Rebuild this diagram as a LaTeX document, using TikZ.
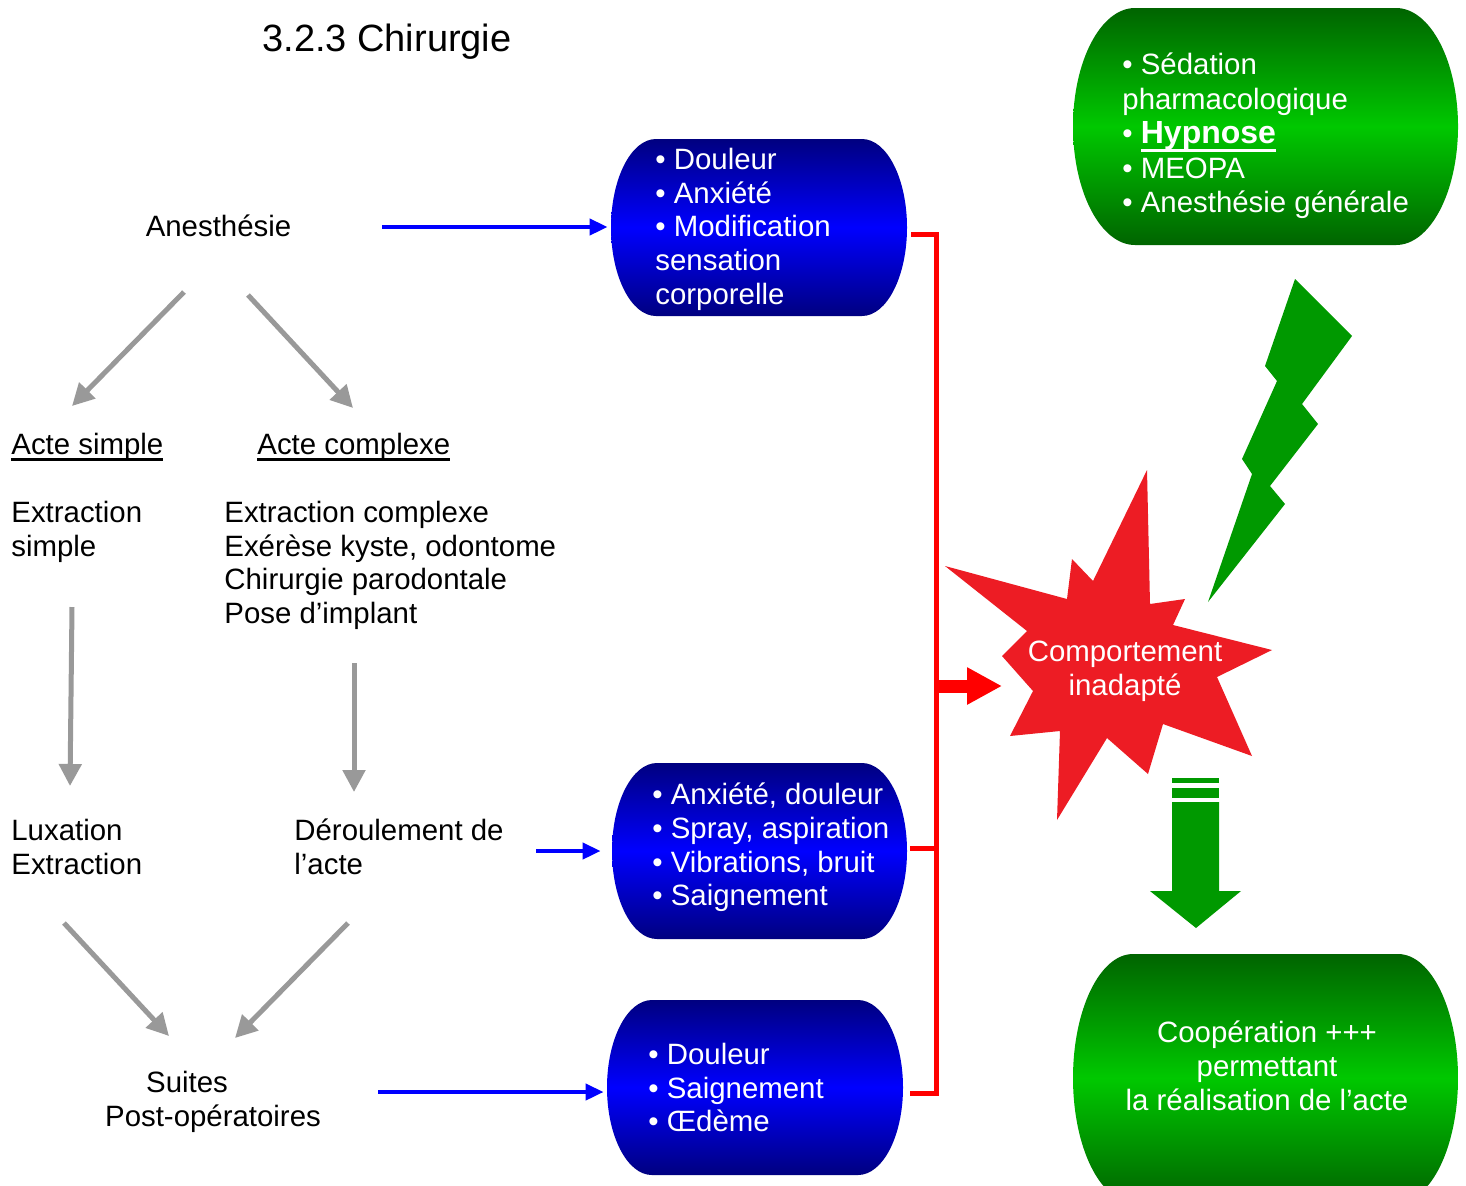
\documentclass[tikz,border=0pt]{standalone}
\usepackage{fontspec}
\setmainfont{Liberation Sans}
\usetikzlibrary{arrows.meta}
\definecolor{navyb}{HTML}{000080}
\definecolor{brightb}{HTML}{0000FF}
\definecolor{dkgreen}{HTML}{006400}
\definecolor{ltgreen}{HTML}{00C800}
\definecolor{arrgreen}{HTML}{009900}
\definecolor{arrgray}{HTML}{999999}
\definecolor{starred}{HTML}{ED1C24}
\definecolor{linered}{HTML}{FF0000}
\newcommand\myul[2][3.4pt]{\leavevmode\setbox0=\hbox{#2}\rlap{\rule[-#1]{\wd0}{1.4pt}}\box0}
\newcommand\drawpill[6]{%
  \shade[#6] ({#1+#5},#2) -- ({#3-#5},#2)
    .. controls ({#3-#5+0.5523*#5},#2) and (#3,{(#2+#4)/2-0.5523*(#4-#2)/2}) .. (#3,{(#2+#4)/2})
    .. controls (#3,{(#2+#4)/2+0.5523*(#4-#2)/2}) and ({#3-#5+0.5523*#5},#4) .. ({#3-#5},#4)
    -- ({#1+#5},#4)
    .. controls ({#1+#5-0.5523*#5},#4) and (#1,{(#2+#4)/2+0.5523*(#4-#2)/2}) .. (#1,{(#2+#4)/2})
    .. controls (#1,{(#2+#4)/2-0.5523*(#4-#2)/2}) and ({#1+#5-0.5523*#5},#2) .. ({#1+#5},#2) -- cycle;}
\tikzset{
  body/.style={font=\fontsize{14.7pt}{16.9pt}\selectfont, inner sep=0pt, align=left},
  wtext/.style={body, text=white},
  garrow/.style={draw=arrgray, line width=2.5pt, -{Triangle[length=11pt,width=11pt]}},
  barrow/.style={draw=brightb, line width=2pt, -{Triangle[length=9pt,width=8pt]}},
  redline/.style={draw=linered, line width=2.5pt, line join=miter},
  redarrow/.style={draw=linered, line width=6.5pt, -{Triangle[length=17.5pt,width=17.5pt]}},
  boxarea/.style={inner sep=0pt, draw=none},
  blueshade/.style={top color=navyb, bottom color=navyb, middle color=brightb},
  greenshade/.style={top color=dkgreen, bottom color=dkgreen, middle color=ltgreen},
}
\begin{document}
\begin{tikzpicture}[x=0.5pt,y=-0.5pt]
\useasboundingbox[fill=white] (0,0) rectangle (1466,1185);

% title
\node[body, anchor=base, font=\fontsize{19pt}{22pt}\selectfont] (title) at (387,51) {3.2.3 Chirurgie};

% left texts
\node[body, anchor=base] (anes) at (218.5,236) {Anesthésie};
\node[body, anchor=base west] (simple) at (11,454) {\myul{Acte simple}};
\node[body, anchor=base west] (complexe) at (257,454) {\myul{Acte complexe}};
\node[body, anchor=north west] (exs) at (11,500.5) {Extraction\\simple};
\node[body, anchor=north west] (exc) at (224,500.5) {Extraction complexe\\Exérèse kyste, odontome\\Chirurgie parodontale\\Pose d’implant};
\node[body, anchor=north west] (lux) at (11,818.5) {Luxation\\Extraction};
\node[body, anchor=north west] (der) at (294,818.5) {Déroulement de\\l’acte};
\node[body, align=center, anchor=north] (suites) at (213,1070.5) {Suites\hspace*{26pt}\\Post-opératoires};

% gray arrows
\coordinate (g1s) at (184,292); \coordinate (g1e) at (72,406);
\coordinate (g2s) at (248,295); \coordinate (g2e) at (353,408);
\coordinate (g3s) at (72,607);  \coordinate (g3e) at (70,786);
\coordinate (g4s) at (354,663); \coordinate (g4e) at (354,792);
\coordinate (g5s) at (64,923);  \coordinate (g5e) at (169,1036);
\coordinate (g6s) at (348,923); \coordinate (g6e) at (235,1038);
\draw[garrow] (g1s) -- (g1e);
\draw[garrow] (g2s) -- (g2e);
\draw[garrow] (g3s) -- (g3e);
\draw[garrow] (g4s) -- (g4e);
\draw[garrow] (g5s) -- (g5e);
\draw[garrow] (g6s) -- (g6e);

% blue boxes
\drawpill{611}{139}{907}{316}{45}{blueshade}
\drawpill{612}{763}{907}{939}{45}{blueshade}
\drawpill{607}{1000}{903}{1175}{45}{blueshade}
\node[boxarea, minimum width=148pt, minimum height=88.5pt] (b1) at (759,227.5) {};
\node[boxarea, minimum width=147.5pt, minimum height=88pt] (b2) at (759.5,851) {};
\node[boxarea, minimum width=148pt, minimum height=87.5pt] (b3) at (755,1087.5) {};
\node[wtext, anchor=north west] (t1) at (655,147.5) {• Douleur\\• Anxiété\\• Modification\\sensation\\corporelle};
\node[wtext, anchor=north west] (t2) at (652,782.5) {• Anxiété, douleur\\• Spray, aspiration\\• Vibrations, bruit\\• Saignement};
\node[wtext, anchor=north west] (t3) at (648,1042.5) {• Douleur\\• Saignement\\• Œdème};

% blue arrows
\coordinate (a1s) at (382,227);
\coordinate (a2s) at (536,851);
\coordinate (a3s) at (378,1092);
\draw[barrow, shorten >=1.5pt] (a1s) -- (a1s -| b1.west);
\draw[barrow, shorten >=5.5pt] (a2s) -- (a2s -| b2.west);
\draw[barrow, shorten >=1.5pt] (a3s) -- (a3s -| b3.west);

% red bus
\coordinate (busx) at (936,0);
\coordinate (c1) at ([xshift=2pt,yshift=-3.25pt]b1.east);
\coordinate (c2) at ([xshift=1.5pt,yshift=1.5pt]b2.east);
\coordinate (c3) at ([xshift=3.5pt,yshift=-2.75pt]b3.east);
\draw[redline] (c1) -| (busx |- c3) -- (c3);
\draw[redline] (c2) -- (busx |- c2);

% starburst
\fill[starred] (1147,470) -- (1150,604) -- (1185,599) -- (1173,625) -- (1272,650) -- (1217,677)
  -- (1252,756) -- (1163,724) -- (1148,774) -- (1107,738) -- (1057,820) -- (1060,731)
  -- (1010,736) -- (1033,691) -- (1002,656) -- (1027,631) -- (945,566) -- (1067,599)
  -- (1072,559) -- (1093,581) -- cycle;
\node[wtext, align=center, anchor=north] (star) at (1125,640.5) {Comportement\\inadapté};
\coordinate (starin) at (1002,686);
\draw[redarrow] (busx |- starin) -- (starin);

% lightning
\fill[arrgreen] (1295,279) -- (1352,336) -- (1302,404) -- (1318,424) -- (1270,486) -- (1285,504)
  -- (1208,602) -- (1252,474) -- (1242,459) -- (1277,381) -- (1265,366) -- cycle;

% green down arrow
\fill[arrgreen] (1172,778) rectangle (1219,783);
\fill[arrgreen] (1172,788) rectangle (1219,798);
\fill[arrgreen] (1172,802) -- (1219,802) -- (1219,891) -- (1241,891) -- (1196,928) -- (1150,891) -- (1172,891) -- cycle;

% green boxes
\drawpill{1073}{8}{1458}{245}{62}{greenshade}
\node[boxarea, minimum width=192.5pt, minimum height=118.5pt] (g1) at (1265.5,126.5) {};
\node[wtext, anchor=north west, font=\fontsize{14.7pt}{17.25pt}\selectfont] (tg1) at (1122,52.5) {• Sédation\\pharmacologique\\• {\fontsize{16pt}{17.25pt}\selectfont\bfseries\myul[4pt]{Hypnose}}\\• MEOPA\\• Anesthésie générale};
\begin{scope}
\clip (0,0) rectangle (1466,1185);
\drawpill{1073}{954}{1458}{1202}{60}{greenshade}
\end{scope}
\node[boxarea, minimum width=192.5pt, minimum height=115.5pt] (g2) at (1265.5,1069.5) {};
\node[wtext, align=center, anchor=north] (tg2) at (1267,1020.5) {Coopération +++\\permettant\\la réalisation de l’acte};
\end{tikzpicture}
\end{document}
